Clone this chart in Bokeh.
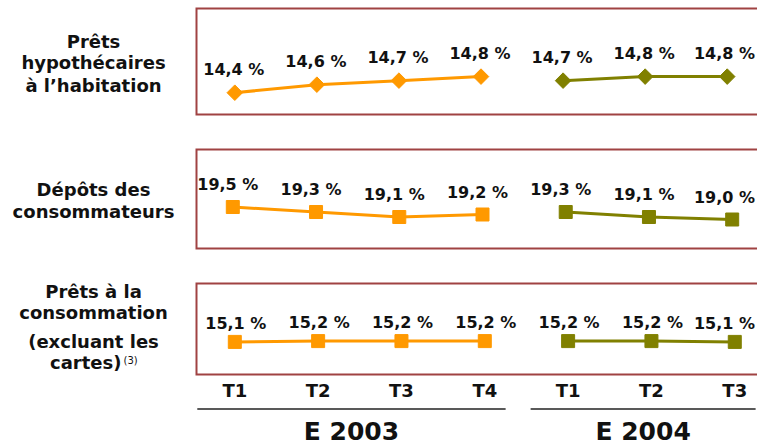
from bokeh.plotting import figure
from bokeh.layouts import column, row
from bokeh.models import Range1d, FixedTicker
from bokeh.core.properties import value
from bokeh.embed import file_html
from bokeh.resources import INLINE

# ---------------- data ----------------
quarters = ["T1", "T2", "T3", "T4", "T1", "T2", "T3"]
years = ["E 2003", "E 2004"]
idx_2003 = [0, 1, 2, 3]
idx_2004 = [4, 5, 6]
hyp_2003 = [14.4, 14.6, 14.7, 14.8]
hyp_2004 = [14.7, 14.8, 14.8]
dep_2003 = [19.5, 19.3, 19.1, 19.2]
dep_2004 = [19.3, 19.1, 19.0]
conso_2003 = [15.1, 15.2, 15.2, 15.2]
conso_2004 = [15.2, 15.2, 15.1]
row_labels = ["Prêts", "hypothécaires", "à l’habitation",
              "Dépôts des", "consommateurs",
              "Prêts à la", "consommation", "(excluant les", "cartes)"]
footnote = "(3)"

# ---------------- style ----------------
FONT = "DejaVu Sans"
ORANGE = "#FF9900"
OLIVE = "#808000"
BORDER = "#a04242"
TXT = "#111111"
LEFT_W = 194
PW = 757 - LEFT_W
FRAME_W = PW - 1
HALF_LABEL = 31


def fmt(v):
    return f"{v:.1f}".replace(".", ",") + " %"


def make_panel(top, frame_h, xr, yr, bottom, xaxis=False):
    p = figure(width=PW, height=top + frame_h + bottom, x_range=xr, y_range=yr,
               output_backend="svg", toolbar_location=None,
               x_axis_location="below" if xaxis else None, y_axis_location=None,
               min_border_left=1, min_border_right=0, min_border_top=top,
               min_border_bottom=bottom)
    p.grid.visible = False
    p.outline_line_color = None
    p.background_fill_color = "white"
    p.border_fill_color = "white"
    # open-ended box: left, top and bottom edges (right edge runs off the page)
    span = xr.end - xr.start
    p.quad(left=[xr.start], right=[xr.end + span], bottom=[yr.start], top=[yr.end],
           fill_color=None, line_color=BORDER, line_width=4)
    return p


def draw_series(p, xs, ys, color, marker, size, angle, yoff, xshift):
    xr = p.x_range
    scale = FRAME_W / (xr.end - xr.start)
    offs = []
    for x in xs:
        px = (x - xr.start) * scale
        offs.append(xshift + min(0, FRAME_W - 2 - (px + xshift) - HALF_LABEL))
    p.line(xs, ys, line_color=color, line_width=3)
    p.scatter(xs, ys, marker=marker, size=size, angle=angle,
              fill_color=color, line_color=color)
    p.text(xs, ys, text=[fmt(v) for v in ys], text_align="center",
           text_baseline="alphabetic", y_offset=yoff, x_offset=offs,
           text_font=value(FONT), text_font_style="bold",
           text_font_size="16px", text_color=TXT)


# panel 1 : diamonds
p1 = make_panel(7, 108, Range1d(-0.4789, 6.369), Range1d(13.8325, 16.52), 32)
for xs, ys, c in ((idx_2003, hyp_2003, ORANGE), (idx_2004, hyp_2004, OLIVE)):
    draw_series(p1, xs, ys, c, "square", 11, 0.785398, -23.5, -1)

# panel 2 : squares
p2 = make_panel(1, 101, Range1d(-0.4482, 6.304), Range1d(17.8, 21.84), 32)
for xs, ys, c in ((idx_2003, dep_2003, ORANGE), (idx_2004, dep_2004, OLIVE)):
    draw_series(p2, xs, ys, c, "square", 13, 0, -22.5, -5)

# panel 3 : squares + quarter axis
xr3 = Range1d(-0.4716, 6.2727)
p3 = make_panel(1, 93, xr3, Range1d(10.9, 22.525), 32, xaxis=True)
for xs, ys, c in ((idx_2003, conso_2003, ORANGE), (idx_2004, conso_2004, OLIVE)):
    draw_series(p3, xs, ys, c, "square", 13, 0, -18.5, 1)
ax = p3.xaxis[0]
ax.ticker = FixedTicker(ticks=list(range(len(quarters))))
ax.major_label_overrides = {i: q for i, q in enumerate(quarters)}
ax.axis_line_color = None
ax.major_tick_line_color = None
ax.minor_tick_line_color = None
ax.major_tick_out = 0
ax.major_tick_in = 0
ax.major_label_standoff = 4
ax.major_label_text_font = FONT
ax.major_label_text_font_style = "bold"
ax.major_label_text_font_size = "18px"
ax.major_label_text_color = TXT

# bottom : year groups
p4 = figure(width=PW, height=448 - p1.height - p2.height - p3.height,
            x_range=xr3, y_range=Range1d(41, 0),
            output_backend="svg", toolbar_location=None,
            x_axis_location=None, y_axis_location=None,
            min_border_left=1, min_border_right=0, min_border_top=0,
            min_border_bottom=0)
p4.grid.visible = False
p4.outline_line_color = None
p4.border_fill_color = "white"
groups = [idx_2003, idx_2004]
g0 = [g[0] - 0.45 for g in groups]
g1 = [g[-1] + 0.25 for g in groups]
p4.segment(x0=g0, x1=g1, y0=[1.5, 1.5], y1=[1.5, 1.5],
           line_color="#222222", line_width=1.5)
p4.text(x=[(a + b) / 2 for a, b in zip(g0, g1)], y=[23.5, 23.5], text=years,
        text_align="center", text_baseline="alphabetic",
        text_font=value(FONT), text_font_style="bold",
        text_font_size="25px", text_color=TXT)

# left : row titles (page-pixel layout)
pl = figure(width=LEFT_W, height=448, x_range=Range1d(0, LEFT_W),
            y_range=Range1d(448, 0), output_backend="svg", toolbar_location=None,
            x_axis_location=None, y_axis_location=None,
            min_border=0)
pl.grid.visible = False
pl.outline_line_color = None
pl.border_fill_color = "white"
label_y = [46.7, 68.3, 90.7, 195, 217.3, 296.7, 318.3, 346.7, 368.3]
label_x = [93] * 8 + [121]
label_align = ["center"] * 8 + ["right"]
pl.text(x=label_x, y=[y - 6 for y in label_y], text=row_labels,
        text_align=label_align, text_baseline="alphabetic",
        text_font=value(FONT), text_font_style="bold",
        text_font_size="18px", text_color=TXT)
pl.text(x=[123], y=[364.3 - 4], text=[footnote], text_align="left",
        text_baseline="alphabetic", text_font=value(FONT),
        text_font_size="10px", text_color=TXT)

layout = row(pl, column(p1, p2, p3, p4, spacing=0), spacing=0)
open("out.html", "w").write(file_html(layout, INLINE))
